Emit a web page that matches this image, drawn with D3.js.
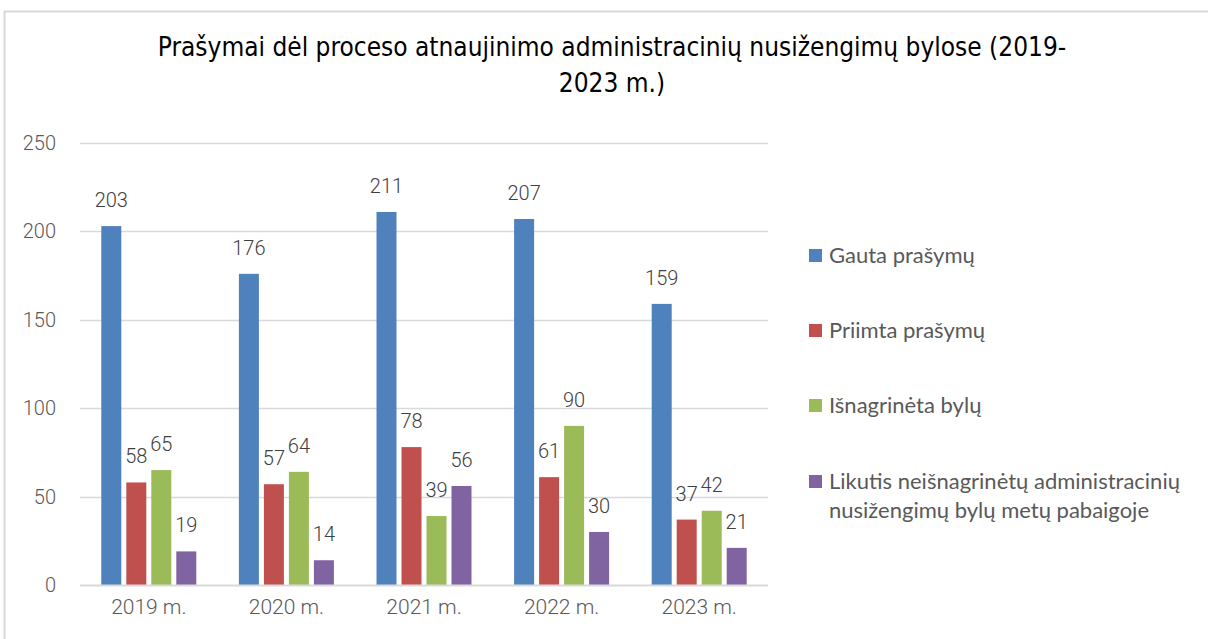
<!DOCTYPE html>
<html><head><meta charset="utf-8">
<script src="https://cdn.jsdelivr.net/npm/d3@7"></script>
<style>body{margin:0;background:#fff}svg{display:block}</style>
</head><body>
<svg id="c" width="1208" height="639"></svg>
<script>
const categories = ["2019 m.","2020 m.","2021 m.","2022 m.","2023 m."];
const seriesNames = ["Gauta prašymų","Priimta prašymų","Išnagrinėta bylų","Likutis neišnagrinėtų administracinių nusižengimų bylų metų pabaigoje"];
const gauta = [203,176,211,207,159];
const priimta = [58,57,78,61,37];
const isnagrineta = [65,64,39,90,42];
const likutis = [19,14,56,30,21];
const yTicks = [0,50,100,150,200,250];
const colors = ["#4F81BD","#C0504D","#9BBB59","#8064A2"];
const series = [gauta,priimta,isnagrineta,likutis];

const svg = d3.select("#c");
const narrow = "'DejaVu Sans Condensed',Roboto,sans-serif";
const num = "Roboto,sans-serif";
// frame
svg.append("path").attr("d","M4.5,639 V11.5 H1208").attr("fill","none").attr("stroke","#d9d9d9").attr("stroke-width",2);

// title
const t = svg.append("text").attr("text-anchor","middle").attr("fill","#000")
  .style("font-family",narrow).style("font-size","26px");
t.append("tspan").attr("x",612).attr("y",56).text("Prašymai dėl proceso atnaujinimo administracinių nusižengimų bylose (2019-");
t.append("tspan").attr("x",612).attr("y",92).text("2023 m.)");

const x0 = d3.scaleBand().domain(categories).range([80,768]);
const x1 = d3.scaleBand().domain(d3.range(4)).range([0,95]).paddingInner(0.2);
const y = d3.scaleLinear().domain([0,250]).range([585,143]);

// gridlines
svg.append("g").selectAll("line").data(yTicks.filter(d=>d>0)).join("line")
  .attr("x1",80).attr("x2",768).attr("y1",d=>Math.round(y(d))+0.5).attr("y2",d=>Math.round(y(d))+0.5)
  .attr("stroke","#d9d9d9").attr("stroke-width",1.5);

// y axis labels
const ya = svg.append("g").attr("transform","translate(56,0)")
  .call(d3.axisLeft(y).tickValues(yTicks).tickSize(0).tickPadding(0));
ya.select(".domain").remove();
ya.selectAll("text").attr("fill","#595959").style("font-family",num).style("font-weight",300).style("font-size","20px");

// bars
const g = svg.append("g");
categories.forEach((c,i)=>{
  series.forEach((s,k)=>{
    const bx = x0(c) + (x0.bandwidth()-95)/2 + x1(k);
    g.append("rect").attr("x",bx).attr("width",x1.bandwidth())
      .attr("y",y(s[i])).attr("height",y(0)-y(s[i])).attr("fill",colors[k]);
    g.append("text").attr("x",bx+x1.bandwidth()/2).attr("y",y(s[i])-19)
      .attr("text-anchor","middle").attr("fill","#404040")
      .style("font-family",num).style("font-weight",300).style("font-size","20px").text(s[i]);
  });
});

// x axis line
svg.append("line").attr("x1",80).attr("x2",768).attr("y1",y(0)+0.5).attr("y2",y(0)+0.5)
  .attr("stroke","#d9d9d9").attr("stroke-width",2);
const xa = svg.append("g").attr("transform",`translate(0,${y(0)})`)
  .call(d3.axisBottom(x0).tickSize(0).tickPadding(14));
xa.select(".domain").remove();
xa.selectAll("text").attr("fill","#595959").style("font-family",num).style("font-weight",300).style("font-size","21px");

// legend
const legY = [255,330,405,481];
const lg = svg.append("g");
seriesNames.forEach((n,k)=>{
  lg.append("rect").attr("x",809).attr("y",legY[k]-6).attr("width",13).attr("height",13).attr("fill",colors[k]);
  const tx = lg.append("text").attr("fill","#595959").style("font-family","Lato,'Open Sans',sans-serif").style("font-size","22px");
  if(k<3){ tx.append("tspan").attr("x",829).attr("y",legY[k]+8).text(n); }
  else {
    tx.append("tspan").attr("x",829).attr("y",legY[k]+8).text("Likutis neišnagrinėtų administracinių");
    tx.append("tspan").attr("x",829).attr("y",legY[k]+37).text("nusižengimų bylų metų pabaigoje");
  }
});
</script>
</body></html>
